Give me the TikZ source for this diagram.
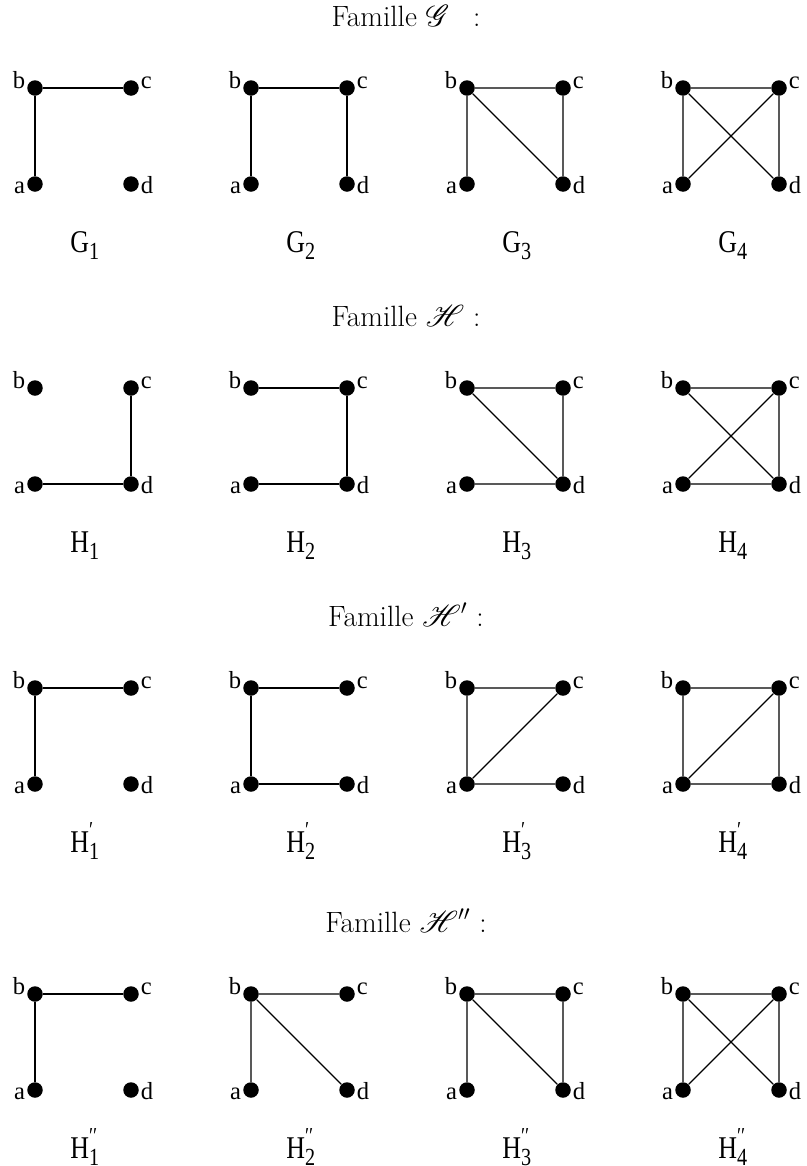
\documentclass[tikz,border=0pt]{standalone}
\usepackage{fontspec}
\usepackage{mathrsfs}
\usepackage{graphicx}
\newfontfamily\tms{Liberation Serif}
\tikzset{
  sommet/.style={circle,fill=black,inner sep=0pt,minimum size=0.31cm},
  lbl/.style={inner sep=0.8pt,font=\tms\fontsize{14}{16}\selectfont},
  arete/.style={line width=0.7pt},
  titre/.style={anchor=base,inner sep=0pt,font=\fontsize{16.7}{20}\selectfont},
  nom/.style={anchor=base west,inner sep=0pt,font=\tms\fontsize{18}{20}\selectfont}
}
% #1 prefixe, #2 x et #3 y du sommet b, #4 nom du graphe
\newcommand{\graphe}[4]{%
  \node[sommet,label={[lbl,anchor=base east]left:b}] (#1b) at (#2,#3) {};
  \node[sommet,label={[lbl,anchor=base west]right:c}] (#1c) at (#2+1.92,#3) {};
  \node[sommet,label={[lbl,anchor=base east,yshift=-0.18cm]left:a}] (#1a) at (#2,#3-1.92) {};
  \node[sommet,label={[lbl,anchor=base west,yshift=-0.18cm]right:d}] (#1d) at (#2+1.92,#3-1.92) {};
  \node[nom] (#1n) at (#2+0.70,#3-3.28) {\scalebox{0.82}[1]{#4}};
}
\newcommand{\nomg}[3]{#1\rlap{\raisebox{0.45em}{\fontsize{13}{14}\selectfont#2}}\raisebox{-0.25em}{\fontsize{14}{15}\selectfont#3}}
\begin{document}
\begin{tikzpicture}
\useasboundingbox (0,0) rectangle (16.14,-23.32);
% famille G
\node[titre] (tG) at (8.12,-0.52) {Famille $\mathscr{G}$\enspace\ :};
\graphe{g1}{0.70}{-1.76}{\nomg{G}{}{1}}
\graphe{g2}{5.02}{-1.76}{\nomg{G}{}{2}}
\graphe{g3}{9.34}{-1.76}{\nomg{G}{}{3}}
\graphe{g4}{13.66}{-1.76}{\nomg{G}{}{4}}
\draw[arete] (g1a) -- (g1b) -- (g1c);
\draw[arete] (g2a) -- (g2b) -- (g2c) -- (g2d);
\draw[arete] (g3a) -- (g3b) -- (g3c) -- (g3d) -- (g3b);
\draw[arete] (g4a) -- (g4b) -- (g4c) -- (g4d) -- (g4b) (g4a) -- (g4c);
% famille H
\node[titre] (tH) at (8.12,-6.52) {Famille $\mathscr{H}$ :};
\graphe{h1}{0.70}{-7.76}{\nomg{H}{}{1}}
\graphe{h2}{5.02}{-7.76}{\nomg{H}{}{2}}
\graphe{h3}{9.34}{-7.76}{\nomg{H}{}{3}}
\graphe{h4}{13.66}{-7.76}{\nomg{H}{}{4}}
\draw[arete] (h1a) -- (h1d) -- (h1c);
\draw[arete] (h2a) -- (h2d) -- (h2c) -- (h2b);
\draw[arete] (h3a) -- (h3d) -- (h3c) -- (h3b) -- (h3d);
\draw[arete] (h4a) -- (h4d) -- (h4c) -- (h4b) -- (h4d) (h4a) -- (h4c);
% famille H'
\node[titre] (tHp) at (8.12,-12.52) {Famille $\mathscr{H}'$ :};
\graphe{p1}{0.70}{-13.76}{\nomg{H}{′}{1}}
\graphe{p2}{5.02}{-13.76}{\nomg{H}{′}{2}}
\graphe{p3}{9.34}{-13.76}{\nomg{H}{′}{3}}
\graphe{p4}{13.66}{-13.76}{\nomg{H}{′}{4}}
\draw[arete] (p1a) -- (p1b) -- (p1c);
\draw[arete] (p2d) -- (p2a) -- (p2b) -- (p2c);
\draw[arete] (p3d) -- (p3a) -- (p3b) -- (p3c) -- (p3a);
\draw[arete] (p4d) -- (p4a) -- (p4b) -- (p4c) -- (p4a) (p4c) -- (p4d);
% famille H''
\node[titre] (tHs) at (8.12,-18.64) {Famille $\mathscr{H}''$ :};
\graphe{s1}{0.70}{-19.88}{\nomg{H}{′′}{1}}
\graphe{s2}{5.02}{-19.88}{\nomg{H}{′′}{2}}
\graphe{s3}{9.34}{-19.88}{\nomg{H}{′′}{3}}
\graphe{s4}{13.66}{-19.88}{\nomg{H}{′′}{4}}
\draw[arete] (s1a) -- (s1b) -- (s1c);
\draw[arete] (s2a) -- (s2b) -- (s2c) (s2b) -- (s2d);
\draw[arete] (s3a) -- (s3b) -- (s3c) -- (s3d) -- (s3b);
\draw[arete] (s4a) -- (s4b) -- (s4c) -- (s4d) -- (s4b) (s4a) -- (s4c);
\end{tikzpicture}
\end{document}
